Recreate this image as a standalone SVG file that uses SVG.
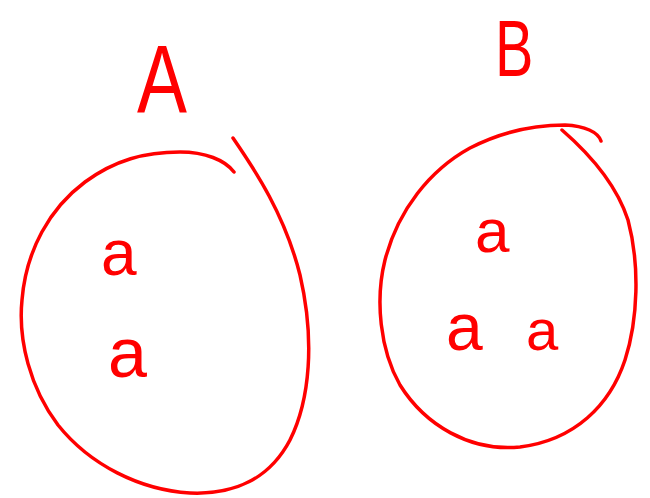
<svg xmlns="http://www.w3.org/2000/svg" width="650" height="498" viewBox="0 0 650 498">
<style>
.loop{fill:none;stroke:#f00;stroke-width:3.5;stroke-linecap:round;stroke-linejoin:round}
.t{fill:#f00;font-family:"Liberation Sans",Arial,sans-serif}
</style>
<rect width="650" height="498" fill="#fff"/>
<g id="connectors"></g>
<g id="setA">
<path class="loop" d="M233,138 C255,170 285,215 300,275 C315,340 310,400 290,440 C270,478 235,495 190,493 C140,490 90,465 58,425 C30,388 18,340 22,300 C26,250 50,208 85,182 C115,160 145,152 180,152 C205,152 225,160 234,172"/>
<text class="t" x="137" y="112" font-size="96" transform="translate(137 0) scale(0.78 1) translate(-137 0)">A</text>
<text class="t" x="101" y="275" font-size="64">a</text>
<text class="t" x="108" y="377" font-size="70">a</text>
</g>
<g id="setB">
<path class="loop" d="M562,130 C585,150 615,180 628,220 C640,265 638,320 625,360 C610,405 575,440 520,447 C470,452 425,425 400,385 C380,350 375,300 385,260 C398,210 430,170 470,148 C505,130 540,125 565,125 C585,126 598,132 601,141"/>
<text class="t" x="495" y="76" font-size="80" transform="translate(495 0) scale(0.72 1) translate(-495 0)">B</text>
<text class="t" x="475" y="252" font-size="62">a</text>
<text class="t" x="446" y="350" font-size="66">a</text>
<text class="t" x="526" y="350" font-size="58">a</text>
</g>
</svg>
